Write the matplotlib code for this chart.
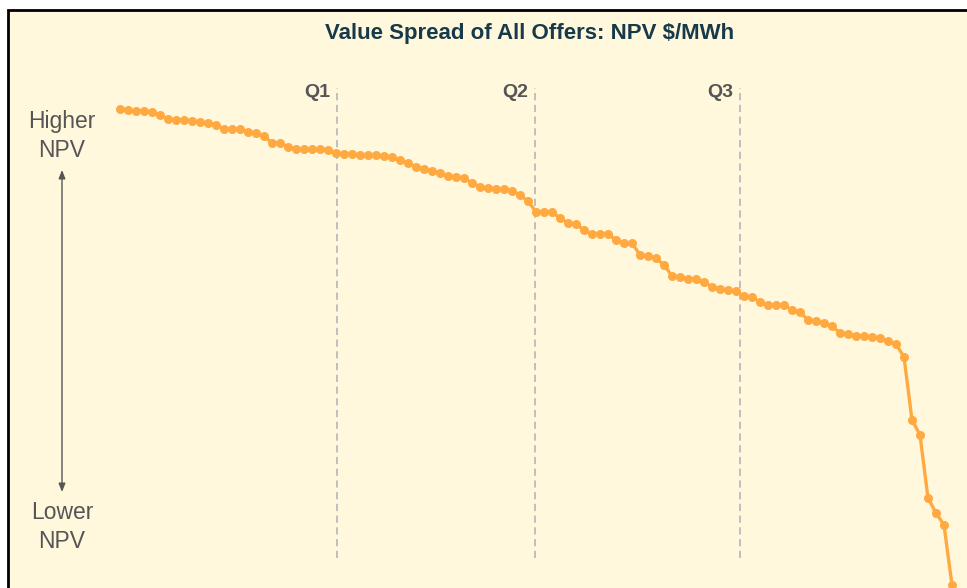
import matplotlib.pyplot as plt
import matplotlib.patches as mpatches
import numpy as np

# NPV of each offer, sorted high to low
npv = [49.1, 49.0, 48.9, 48.9, 48.8, 48.5, 48.1, 48.0, 48.0, 47.9,
       47.8, 47.7, 47.5, 47.1, 47.1, 47.1, 46.8, 46.7, 46.4, 45.7,
       45.7, 45.3, 45.1, 45.1, 45.1, 45.1, 45.0, 44.7, 44.6, 44.6,
       44.5, 44.5, 44.5, 44.4, 44.3, 44.0, 43.7, 43.3, 43.1, 42.9,
       42.7, 42.4, 42.3, 42.2, 41.7, 41.3, 41.2, 41.1, 41.1, 40.9,
       40.5, 39.9, 38.8, 38.8, 38.8, 38.2, 37.7, 37.6, 37.0, 36.6,
       36.6, 36.6, 36.0, 35.7, 35.7, 34.5, 34.4, 34.2, 33.5, 32.4,
       32.3, 32.1, 32.1, 31.8, 31.3, 31.1, 31.0, 30.9, 30.4, 30.3,
       29.8, 29.5, 29.5, 29.5, 29.0, 28.8, 28.0, 27.9, 27.7, 27.4,
       26.7, 26.6, 26.4, 26.4, 26.3, 26.2, 25.9, 25.6, 24.3, 18.0,
       16.5, 10.2, 8.7, 7.5, 1.5]
quartile_pos = [27.1, 51.9, 77.5]
quartile_labels = ['Q1', 'Q2', 'Q3']

bg = '#FFF8DC'
grey = '#555555'

fig = plt.figure(figsize=(9.67, 5.88), dpi=100, facecolor='white')

ax = fig.add_axes([0, 0, 1, 1])
ax.set_facecolor('none')
ax.axis('off')
ax.set_xlim(-15, 105.875)
ax.set_ylim(1.2, 60)

# panel with black border on top/left
ax.add_patch(mpatches.Rectangle((8 / 967, -0.05), 1.1, 1.05 - 10 / 588,
                                transform=fig.transFigure, facecolor=bg,
                                edgecolor='black', linewidth=2, zorder=0,
                                clip_on=False))

x = np.arange(len(npv))
ax.plot(x, npv, color='#FFA940', lw=2.4, marker='o', ms=6.5,
        markeredgewidth=0, zorder=3)

for q, lab in zip(quartile_pos, quartile_labels):
    ax.plot([q, q], [4.2, 51.2], color='#BBBBBB', lw=1.3,
            linestyle=(0, (4, 2.5)), zorder=1)
    ax.text(q - 0.85, 50.7, lab, ha='right', va='center', fontsize=14,
            fontweight='bold', color=grey, family='Liberation Sans')

ax.text(-7.25, 46.4, 'Higher\nNPV', ha='center', va='center', fontsize=16.5,
        color=grey, family='Liberation Sans', linespacing=1.3)
ax.text(-7.25, 7.3, 'Lower\nNPV', ha='center', va='center', fontsize=16.5,
        color=grey, family='Liberation Sans', linespacing=1.3)
ax.annotate('', xy=(-7.25, 10.8), xytext=(-7.25, 43.0),
            arrowprops=dict(arrowstyle='<|-|>,head_length=0.5,head_width=0.2',
                            color=grey, lw=1, shrinkA=0, shrinkB=0))

fig.text(530 / 967, 1 - 33 / 588, 'Value Spread of All Offers: NPV $/MWh',
         ha='center', va='center', fontsize=16, fontweight='bold',
         color='#173A4A', family='Liberation Sans')

fig.savefig('out.png', dpi=100, facecolor='white')
